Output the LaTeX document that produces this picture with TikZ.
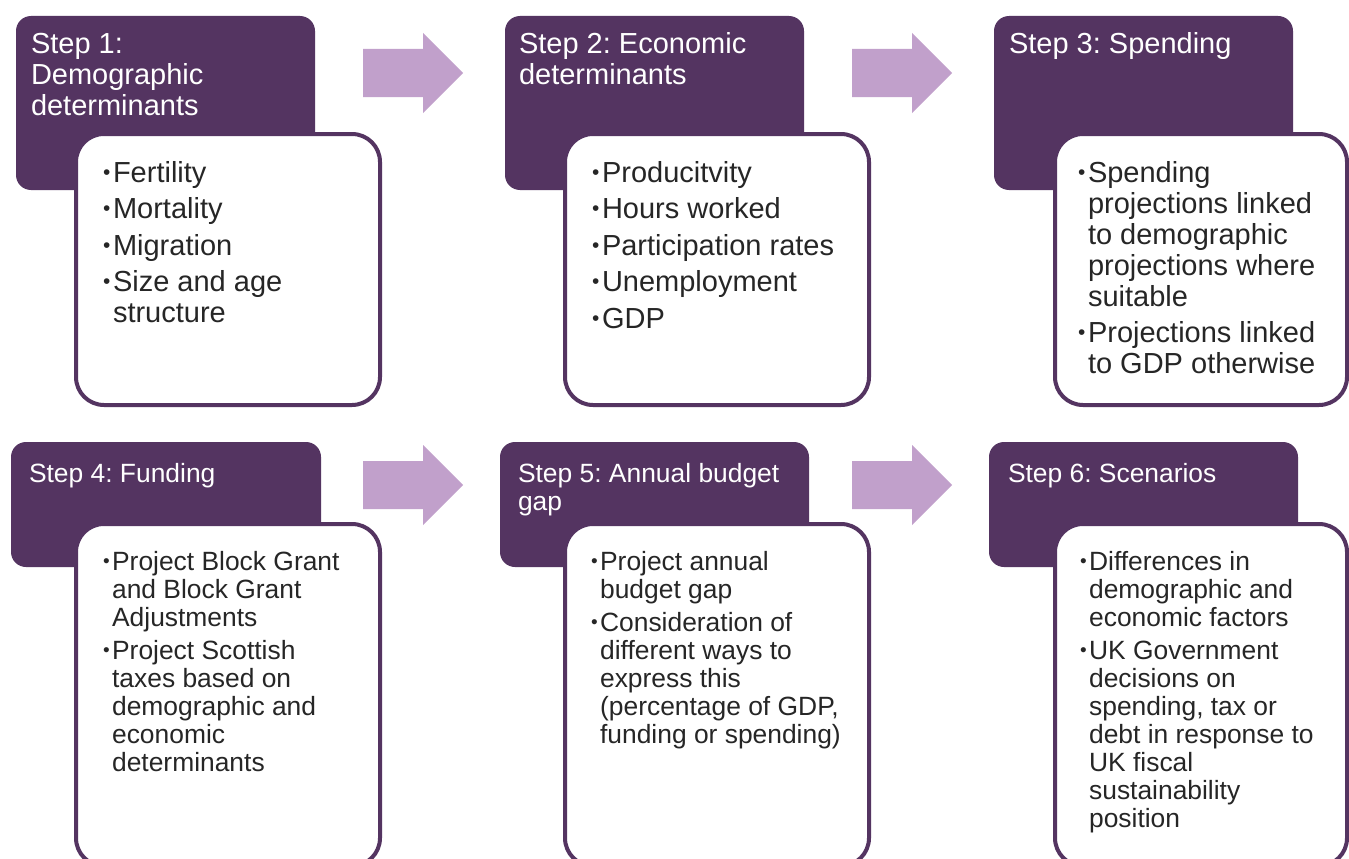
\documentclass[tikz,border=0pt]{standalone}
\usepackage{fontspec}
\setmainfont{Liberation Sans}
\usetikzlibrary{positioning}
\definecolor{stepdark}{HTML}{543461}
\definecolor{arrowlight}{HTML}{C1A0CB}
\definecolor{textdark}{HTML}{262626}
\frenchspacing
\newcommand\bul{\makebox[0.345em][l]{\raisebox{0.09em}{\scalebox{0.72}{•}}}}
\newcommand\ind{\hspace*{0.345em}}
\newcommand\fl{\rule{0pt}{0.76em}}
\tikzset{
  headbox/.style={fill=stepdark, rounded corners=15pt, anchor=north west, inner sep=0pt, outer sep=0pt},
  bodybox/.style={draw=stepdark, line width=4pt, fill=white, rounded corners=28pt, anchor=north west, inner sep=0pt, outer sep=0pt},
  headtext/.style={text=white, align=left, anchor=north west, inner sep=0pt, outer sep=0pt},
  bodytext/.style={text=textdark, align=left, anchor=north west, inner sep=0pt, outer sep=0pt},
  toprow/.style={font=\fontsize{29}{31}\selectfont},
  botrow/.style={font=\fontsize{26.4}{28}\selectfont},
  arrowfill/.style={fill=arrowlight}
}

\begin{document}
\begin{tikzpicture}[x=1pt,y=-1pt]
  \useasboundingbox (0,0) rectangle (1349,859);
  \clip (0,0) rectangle (1349,859);
  \fill[white] (0,0) rectangle (1349,859);

  \node[headbox, minimum width=299pt, minimum height=174pt] (h1) at (16,16) {};
  \node[headbox, minimum width=299pt, minimum height=174pt] (h2) at (505,16) {};
  \node[headbox, minimum width=299pt, minimum height=174pt] (h3) at (994,16) {};
  \node[headbox, minimum width=310pt, minimum height=125pt] (h4) at (11,442) {};
  \node[headbox, minimum width=309pt, minimum height=125pt] (h5) at (500,442) {};
  \node[headbox, minimum width=309pt, minimum height=125pt] (h6) at (989,442) {};

  \node[bodybox, minimum width=304pt, minimum height=271pt] (b1) at (76,134) {};
  \node[bodybox, minimum width=304pt, minimum height=271pt] (b2) at (565,134) {};
  \node[bodybox, minimum width=292pt, minimum height=271pt] (b3) at (1055,134) {};
  \node[bodybox, minimum width=304pt, minimum height=342pt] (b4) at (76,524) {};
  \node[bodybox, minimum width=304pt, minimum height=342pt] (b5) at (565,524) {};
  \node[bodybox, minimum width=292pt, minimum height=342pt] (b6) at (1055,524) {};

  \fill[arrowfill] (363,49) -- (423,49) -- (423,33) -- (463,73) -- (423,113) -- (423,97) -- (363,97) -- cycle;
  \fill[arrowfill] (852,49) -- (912,49) -- (912,33) -- (952,73) -- (912,113) -- (912,97) -- (852,97) -- cycle;
  \fill[arrowfill] (363,461) -- (423,461) -- (423,445) -- (463,485) -- (423,525) -- (423,509) -- (363,509) -- cycle;
  \fill[arrowfill] (852,461) -- (912,461) -- (912,445) -- (952,485) -- (912,525) -- (912,509) -- (852,509) -- cycle;

  \node[headtext, toprow] (t1) at ([xshift=15pt,yshift=-15pt]h1.north west) {\fl Step 1:\\Demographic\\determinants};
  \node[headtext, toprow] (t2) at ([xshift=14pt,yshift=-15pt]h2.north west) {\fl Step 2: Economic\\determinants};
  \node[headtext, toprow] (t3) at ([xshift=15pt,yshift=-15pt]h3.north west) {\fl Step 3: Spending};
  \node[headtext, botrow] (t4) at ([xshift=18pt,yshift=-20pt]h4.north west) {\fl Step 4: Funding};
  \node[headtext, botrow] (t5) at ([xshift=18pt,yshift=-20pt]h5.north west) {\fl Step 5: Annual budget\\gap};
  \node[headtext, botrow] (t6) at ([xshift=19pt,yshift=-20pt]h6.north west) {\fl Step 6: Scenarios};

  \node[bodytext, toprow] (l1) at ([xshift=27pt,yshift=-26pt]b1.north west)
    {\fl\bul Fertility\\[5.5pt]\bul Mortality\\[5.5pt]\bul Migration\\[5.5pt]\bul Size and age\\\ind structure};
  \node[bodytext, toprow] (l2) at ([xshift=27pt,yshift=-26pt]b2.north west)
    {\fl\bul Producitvity\\[5.5pt]\bul Hours worked\\[5.5pt]\bul Participation rates\\[5.5pt]\bul Unemployment\\[5.5pt]\bul GDP};
  \node[bodytext, toprow] (l3) at ([xshift=23pt,yshift=-26pt]b3.north west)
    {\fl\bul Spending\\\ind projections linked\\\ind to demographic\\\ind projections where\\\ind suitable\\[5.5pt]\bul Projections linked\\\ind to GDP otherwise};
  \node[bodytext, botrow] (l4) at ([xshift=27pt,yshift=-26pt]b4.north west)
    {\fl\bul Project Block Grant\\\ind and Block Grant\\\ind Adjustments\\[5pt]\bul Project Scottish\\\ind taxes based on\\\ind demographic and\\\ind economic\\\ind determinants};
  \node[bodytext, botrow] (l5) at ([xshift=26pt,yshift=-26pt]b5.north west)
    {\fl\bul Project annual\\\ind budget gap\\[5pt]\bul Consideration of\\\ind different ways to\\\ind express this\\\ind (percentage of GDP,\\\ind funding or spending)};
  \node[bodytext, botrow] (l6) at ([xshift=25pt,yshift=-26pt]b6.north west)
    {\fl\bul Differences in\\\ind demographic and\\\ind economic factors\\[5pt]\bul UK Government\\\ind decisions on\\\ind spending, tax or\\\ind debt in response to\\\ind UK fiscal\\\ind sustainability\\\ind position};
\end{tikzpicture}
\end{document}
